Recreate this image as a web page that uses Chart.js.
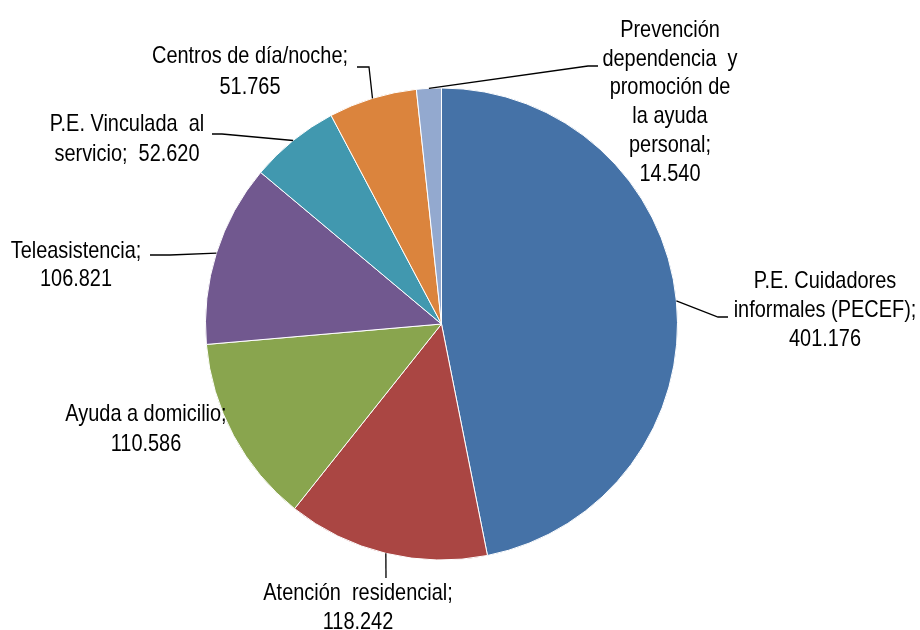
<!DOCTYPE html>
<html>
<head>
<meta charset="utf-8">
<script src="https://cdn.jsdelivr.net/npm/chart.js@4/dist/chart.umd.min.js"></script>
<style>
  html, body { margin: 0; padding: 0; background: #fff; }
  #wrap { width: 920px; height: 630px; position: relative; }
</style>
</head>
<body>
<div id="wrap"><canvas id="pie" width="920" height="630"></canvas></div>
<script>
// datos (orden de dibujo, en sentido horario desde las 12)
const categorias = [
  'P.E. Cuidadores informales (PECEF)',
  'Atención residencial',
  'Ayuda a domicilio',
  'Teleasistencia',
  'P.E. Vinculada al servicio',
  'Centros de día/noche',
  'Prevención dependencia y promoción de la ayuda personal'
];
const valores = [401176, 118242, 110586, 106821, 52620, 51765, 14540];
const valoresTxt = ['401.176', '118.242', '110.586', '106.821', '52.620', '51.765', '14.540'];

// texto de las etiquetas, partido en líneas como en el original
const lineasEtiqueta = [
  ['P.E. Cuidadores', 'informales (PECEF);', valoresTxt[0]],
  ['Atención  residencial;', valoresTxt[1]],
  ['Ayuda a domicilio;', valoresTxt[2]],
  ['Teleasistencia;', valoresTxt[3]],
  ['P.E. Vinculada  al', 'servicio;  ' + valoresTxt[4]],
  ['Centros de día/noche;', valoresTxt[5]],
  ['Prevención', 'dependencia  y', 'promoción de', 'la ayuda', 'personal;', valoresTxt[6]]
];

const colores = ['#4572A7', '#AA4643', '#89A54E', '#71588F', '#4198AF', '#DB843D', '#93A9CF'];

// posición de cada etiqueta: centro x, primera línea base, y puntos de la línea guía (desde el texto hacia el sector)
const posEtiqueta = [
  { x: 825, y: 288, lh: 29, guia: [[728, 317], [718, 317]] },
  { x: 358, y: 600, lh: 29, guia: [[386, 578]] },
  { x: 146, y: 421, lh: 30, guia: null },
  { x: 76,  y: 258, lh: 28, guia: [[150, 255], [170, 255]] },
  { x: 127, y: 131, lh: 30, guia: [[212, 134], [222, 134]] },
  { x: 250, y: 63,  lh: 31, guia: [[357, 67], [369, 67]] },
  { x: 670, y: 37,  lh: 28.7, guia: [[598, 66], [588, 66]] }
];

// plugin para etiquetas con líneas guía
const etiquetasPlugin = {
  id: 'etiquetas',
  afterDatasetsDraw(chart) {
    const ctx = chart.ctx;
    const arcs = chart.getDatasetMeta(0).data;
    ctx.save();
    ctx.strokeStyle = '#000';
    ctx.lineWidth = 1.3;
    arcs.forEach((arc, i) => {
      const p = posEtiqueta[i];
      if (!p.guia) return;
      const mid = (arc.startAngle + arc.endAngle) / 2;
      const ex = arc.x + Math.cos(mid) * arc.outerRadius;
      const ey = arc.y + Math.sin(mid) * arc.outerRadius;
      ctx.beginPath();
      ctx.moveTo(p.guia[0][0], p.guia[0][1]);
      p.guia.slice(1).forEach(q => ctx.lineTo(q[0], q[1]));
      ctx.lineTo(ex, ey);
      ctx.stroke();
    });
    ctx.fillStyle = '#000';
    ctx.font = '24px "Liberation Sans", Arial, sans-serif';
    ctx.textAlign = 'center';
    ctx.textBaseline = 'alphabetic';
    lineasEtiqueta.forEach((lineas, i) => {
      const p = posEtiqueta[i];
      lineas.forEach((t, k) => {
        ctx.save();
        ctx.translate(p.x, p.y + k * p.lh);
        ctx.scale(0.83, 1); // texto algo estrecho, como en el original
        ctx.fillText(t, 0, 0);
        ctx.restore();
      });
    });
    ctx.restore();
  }
};

new Chart(document.getElementById('pie'), {
  type: 'pie',
  data: {
    labels: categorias,
    datasets: [{
      data: valores,
      backgroundColor: colores,
      borderColor: '#ffffff',
      borderWidth: 1,
      radius: 236
    }]
  },
  options: {
    responsive: false,
    animation: false,
    layout: { padding: { left: 0, right: 37, top: 18, bottom: 0 } },
    plugins: {
      legend: { display: false },
      tooltip: { enabled: false }
    }
  },
  plugins: [etiquetasPlugin]
});
</script>
</body>
</html>
